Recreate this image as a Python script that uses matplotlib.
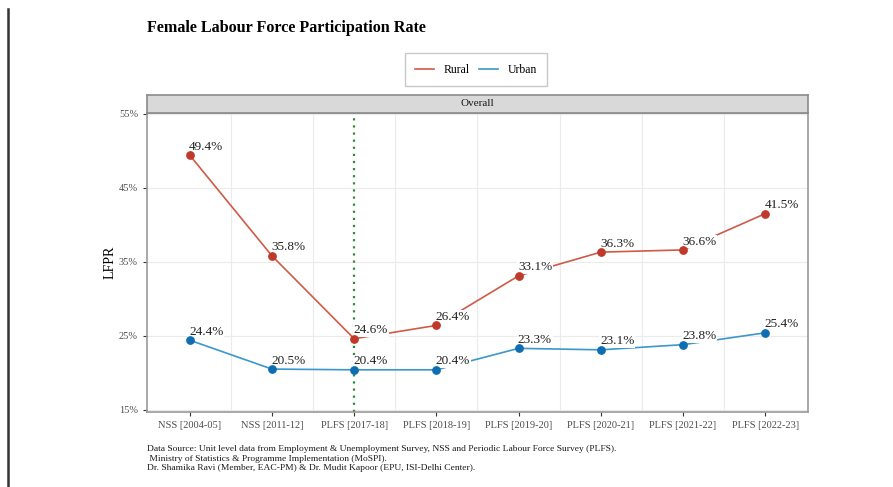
import matplotlib.pyplot as plt
from matplotlib.lines import Line2D

plt.rcParams['font.family'] = ['Liberation Serif', 'DejaVu Serif']

# data
surveys = ['NSS [2004-05]', 'NSS [2011-12]', 'PLFS [2017-18]', 'PLFS [2018-19]',
           'PLFS [2019-20]', 'PLFS [2020-21]', 'PLFS [2021-22]', 'PLFS [2022-23]']
rural = [49.4, 35.8, 24.6, 26.4, 33.1, 36.3, 36.6, 41.5]
urban = [24.4, 20.5, 20.4, 20.4, 23.3, 23.1, 23.8, 25.4]
y_ticks = [15, 25, 35, 45, 55]
marker_survey = 'PLFS [2017-18]'

red_line, red_pt = '#cf5a48', '#c0392b'
blue_line, blue_pt = '#3b97cc', '#0f6eb2'

fig = plt.figure(figsize=(8.93, 4.87), dpi=100)
ax = fig.add_axes([0.1646, 0.154, 0.7402, 0.614])

x = list(range(len(surveys)))

# grid
for g in x[:-1]:
    ax.axvline(g + 0.5, color='#ebebeb', lw=0.8, zorder=0)
for t in y_ticks:
    ax.axhline(t, color='#ebebeb', lw=0.8, zorder=0)

ax.axvline(surveys.index(marker_survey), color='#2e8b3a', lw=1.6,
           linestyle=(0, (1, 2.2)), zorder=1)

ax.plot(x, rural, color=red_line, lw=1.2, zorder=2)
ax.plot(x, urban, color=blue_line, lw=1.2, zorder=2)
ax.scatter(x, rural, color=red_pt, s=28, zorder=4)
ax.scatter(x, urban, color=blue_pt, s=28, zorder=4)

for xi, r, u in zip(x, rural, urban):
    for v in (r, u):
        ax.annotate(f'{v:.1f}%', (xi, v), xytext=(-0.5, 6), textcoords='offset points',
                    ha='left', va='center', fontsize=9.5, color='#222222', zorder=3,
                    bbox=dict(boxstyle='square,pad=0.05', fc='white', ec='none'))

ax.set_xlim(-0.52, 7.52)
ax.set_ylim(14.7, 55.1)
ax.set_xticks(x)
ax.set_xticklabels(surveys)
ax.set_yticks(y_ticks)
ax.set_yticklabels([f'{t}%' for t in y_ticks])
ax.tick_params(labelsize=7.5, labelcolor='#4d4d4d', color='#333333', length=3, width=0.8)
for s in ax.spines.values():
    s.set_color('#999999')
    s.set_linewidth(1.2)
ax.set_ylabel('LFPR', fontsize=10, labelpad=2)

# facet strip
strip = fig.add_axes([0.1646, 0.768, 0.7402, 0.037])
strip.set_xticks([])
strip.set_yticks([])
strip.set_facecolor('#d9d9d9')
for s in strip.spines.values():
    s.set_color('#8a8a8a')
    s.set_linewidth(1.2)
strip.text(0.5, 0.5, 'Overall', ha='center', va='center', fontsize=8, color='#1a1a1a')

fig.text(0.1646, 0.943, 'Female Labour Force Participation Rate', fontsize=11.6,
         fontweight='bold', ha='left', va='center')

handles = [Line2D([], [], color=red_line, lw=1.2), Line2D([], [], color=blue_line, lw=1.2)]
fig.legend(handles, ['Rural', 'Urban'], loc='center', bbox_to_anchor=(0.533, 0.857),
           ncol=2, frameon=True, fancybox=False, edgecolor='#bbbbbb', fontsize=8.5,
           handlelength=1.6, columnspacing=0.8, borderpad=0.9)

notes = ['Data Source: Unit level data from Employment & Unemployment Survey, NSS and Periodic Labour Force Survey (PLFS).',
         ' Ministry of Statistics & Programme Implementation (MoSPI).',
         'Dr. Shamika Ravi (Member, EAC-PM) & Dr. Mudit Kapoor (EPU, ISI-Delhi Center).']
for i, n in enumerate(notes):
    fig.text(0.1646, 0.079 - i * 0.0205, n, fontsize=6.8, ha='left', va='center', color='#1a1a1a')

fig.add_artist(Line2D([0.009, 0.009], [0.0, 0.982], color='#333333', lw=1.8))

fig.savefig('out.png', dpi=100)
